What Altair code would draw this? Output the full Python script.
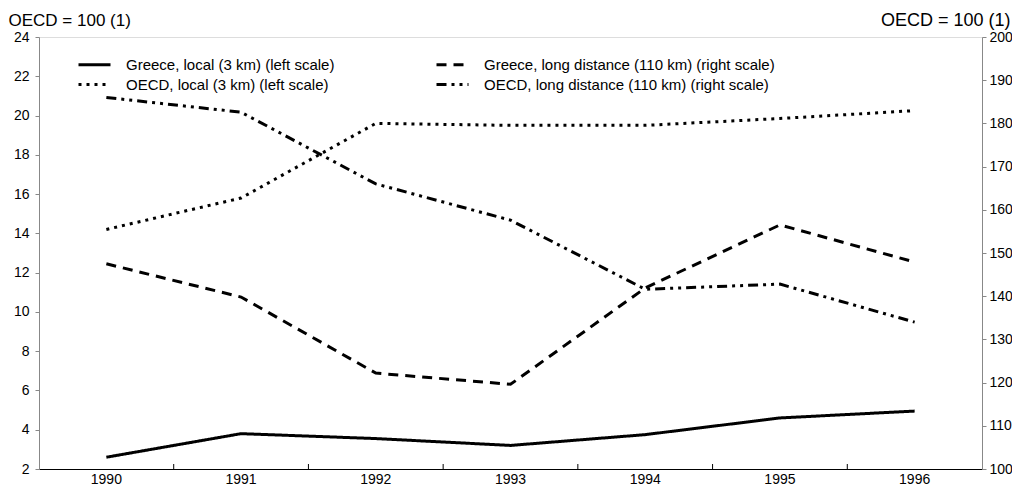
import altair as alt
import pandas as pd

years = [1990, 1991, 1992, 1993, 1994, 1995, 1996]
greece_local = [2.6, 3.8, 3.55, 3.2, 3.75, 4.6, 4.95]
oecd_local = [14.2, 15.8, 19.6, 19.5, 19.5, 19.85, 20.25]
greece_long = [147.5, 139.8, 122.2, 119.6, 141.9, 156.5, 147.9]
oecd_long = [186.0, 182.6, 166.0, 157.6, 141.6, 142.8, 134.0]

series_names = [
    "Greece, local (3 km) (left scale)",
    "Greece, long distance (110 km) (right scale)",
    "OECD, local (3 km) (left scale)",
    "OECD, long distance (110 km) (right scale)",
]
dash_patterns = [[1, 0], [10, 7], [3, 5], [10, 5, 3, 5, 3, 5]]
left_ticks = list(range(2, 25, 2))
right_ticks = list(range(100, 201, 10))
scale_title = "OECD = 100 (1)"

rows = []
for name, vals, side in [
    (series_names[0], greece_local, "left"),
    (series_names[2], oecd_local, "left"),
    (series_names[1], greece_long, "right"),
    (series_names[3], oecd_long, "right"),
]:
    for y, v in zip(years, vals):
        rows.append({"year": str(y), "value": v, "series": name, "side": side})
df = pd.DataFrame(rows)
tick_df = pd.DataFrame({"year": [str(y) for y in years[:-1]]})

FONT = "Liberation Sans"
W, H = 943, 432
LBL = 14

x_enc = alt.X(
    "year:O",
    bandPosition=0.5,
    scale=alt.Scale(type="band", paddingInner=0, paddingOuter=0),
    axis=alt.Axis(title=None, labelAngle=0, ticks=False, labelPadding=3,
                  labelFontSize=LBL, domainColor="black", labelColor="black"),
)

dash = alt.StrokeDash(
    "series:N",
    scale=alt.Scale(domain=series_names, range=dash_patterns),
    sort=series_names,
    legend=alt.Legend(
        title=None, orient="none", legendX=44, legendY=16, columns=2,
        columnPadding=95, rowPadding=0, symbolType="M-1.6,0H1.6",
        symbolSize=400, symbolStrokeWidth=3, symbolStrokeColor="black",
        symbolFillColor="transparent",
        labelFontSize=15, labelFont=FONT, labelColor="black",
        labelLimit=400, labelOffset=20, direction="horizontal",
    ),
)

base = alt.Chart(df).mark_line(color="black", strokeWidth=3)

left = base.transform_filter(alt.datum.side == "left").encode(
    x=x_enc,
    y=alt.Y("value:Q", scale=alt.Scale(domain=[2, 24], nice=False, zero=False),
            axis=alt.Axis(values=left_ticks, title=scale_title, titleAngle=0,
                          titleAlign="left", titleBaseline="alphabetic",
                          titleX=-31, titleY=-12, titleFontSize=17,
                          titleFontWeight="normal", titleFont=FONT,
                          tickSize=4, labelPadding=6, labelFontSize=LBL,
                          grid=False)),
    strokeDash=dash,
)

right = base.transform_filter(alt.datum.side == "right").encode(
    x=x_enc,
    y=alt.Y("value:Q", scale=alt.Scale(domain=[100, 200], nice=False, zero=False),
            axis=alt.Axis(values=right_ticks, orient="right", title=scale_title,
                          titleAngle=0, titleAlign="right",
                          titleBaseline="alphabetic", titleX=28, titleY=-12,
                          titleFontSize=18, titleFontWeight="normal",
                          titleFont=FONT, tickSize=4, labelPadding=3,
                          labelFontSize=LBL, grid=False)),
    strokeDash=dash,
)

ticks = alt.Chart(tick_df).mark_rule(color="black", strokeWidth=1).encode(
    x=alt.X("year:O", bandPosition=1),
    y=alt.value(H - 5),
    y2=alt.value(H),
)

chart = (
    alt.layer(left, right, ticks)
    .resolve_scale(y="independent")
    .properties(
        width=W, height=H,
        autosize=alt.AutoSizeParams(type="none"),
        padding={"left": 31, "top": 29, "right": 30, "bottom": 17},
    )
    .configure_view(stroke="black", strokeWidth=1)
    .configure_axis(labelFont=FONT, labelColor="black", domainColor="black",
                    tickColor="black", titleColor="black", grid=False)
    .configure(background="white")
)

chart.save("out.html", embed_options={"renderer": "svg", "actions": False})
